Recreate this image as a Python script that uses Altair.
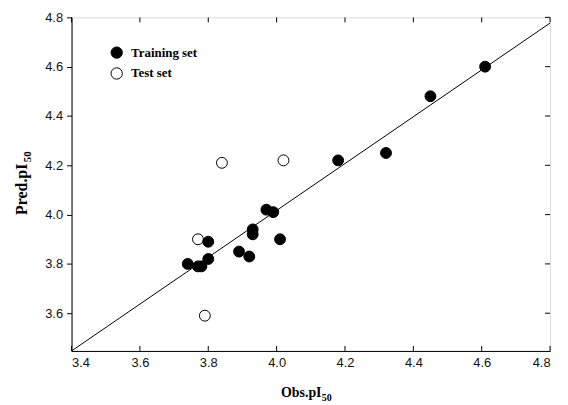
import altair as alt
import pandas as pd

# ---- data ----
train_x = [3.74, 3.77, 3.78, 3.80, 3.80, 3.89, 3.92, 3.93, 3.93, 3.97, 3.99, 4.01, 4.18, 4.32, 4.45, 4.61]
train_y = [3.80, 3.79, 3.79, 3.89, 3.82, 3.85, 3.83, 3.94, 3.92, 4.02, 4.01, 3.90, 4.22, 4.25, 4.48, 4.60]
test_x = [3.77, 3.79, 3.84, 4.02]
test_y = [3.90, 3.59, 4.21, 4.22]
fit_x = [3.40, 4.80]
fit_y = [3.447, 4.777]
x_ticks = [3.4, 3.6, 3.8, 4.0, 4.2, 4.4, 4.6, 4.8]
y_ticks = [3.6, 3.8, 4.0, 4.2, 4.4, 4.6, 4.8]
set_names = ["Training set", "Test set"]
x_title = ["Obs.pI", "50"]
y_title = ["Pred.pI", "50"]

W, H = 482, 336

pts = pd.DataFrame({
    "obs": test_x + train_x,
    "pred": test_y + train_y,
    "set": [set_names[1]] * len(test_x) + [set_names[0]] * len(train_x),
    "ord": list(range(len(test_x) + len(train_x))),
})
fit = pd.DataFrame({"obs": fit_x, "pred": fit_y})
xt = pd.DataFrame({"v": x_ticks})
yt = pd.DataFrame({"v": y_ticks})

xs = alt.Scale(domain=[3.4, 4.8], nice=False, zero=False)
ys = alt.Scale(domain=[3.447, 4.8], nice=False, zero=False)

lab = dict(labelFont="Liberation Sans", labelFontSize=13, labelColor="#111",
           grid=False, domainColor="black", domainWidth=1, title=None)
xaxis = alt.Axis(values=x_ticks, format=".1f", ticks=False, labelPadding=6, **lab)
yaxis = alt.Axis(values=y_ticks, format=".1f", ticks=True, tickSize=5, tickColor="black",
                 labelPadding=4, **lab)

X = lambda f: alt.X(f, type="quantitative", scale=xs, axis=xaxis)
Y = lambda f: alt.Y(f, type="quantitative", scale=ys, axis=yaxis)

line = alt.Chart(fit).mark_line(color="black", strokeWidth=1).encode(x=X("obs"), y=Y("pred"))

points = alt.Chart(pts).mark_point(shape="circle", size=120, stroke="black", strokeWidth=1,
                                   opacity=1, fillOpacity=1).encode(
    x=X("obs"), y=Y("pred"),
    fill=alt.Fill("set:N", scale=alt.Scale(domain=set_names, range=["black", "white"]),
                  legend=alt.Legend(orient="none", legendX=39, legendY=29, title=None,
                                    labelFont="Liberation Serif", labelFontWeight="bold",
                                    labelFontSize=13, labelColor="black",
                                    symbolType="circle", symbolSize=130,
                                    symbolStrokeColor="black", symbolStrokeWidth=1,
                                    labelOffset=8, rowPadding=4, padding=0)),
    order=alt.Order("ord:Q"),
)

tick_bottom = alt.Chart(xt).mark_rule(color="black").encode(
    x=X("v"), y=alt.value(H), y2=alt.value(H - 5))
tick_top = alt.Chart(xt).mark_rule(color="black").encode(
    x=X("v"), y=alt.value(0), y2=alt.value(5))
tick_right = alt.Chart(yt).mark_rule(color="black").encode(
    y=Y("v"), x=alt.value(W), x2=alt.value(W - 5))

xt_main = alt.Chart(pd.DataFrame({"t": [x_title[0]]})).mark_text(
    font="Liberation Serif", fontWeight="bold", fontSize=14, align="left",
    baseline="alphabetic", color="black").encode(text="t:N", x=alt.value(211), y=alt.value(382))
xt_sub = alt.Chart(pd.DataFrame({"t": [x_title[1]]})).mark_text(
    font="Liberation Serif", fontWeight="bold", fontSize=10, align="left",
    baseline="alphabetic", color="black").encode(text="t:N", x=alt.value(252), y=alt.value(386))
yt_main = alt.Chart(pd.DataFrame({"t": [y_title[0]]})).mark_text(
    font="Liberation Serif", fontWeight="bold", fontSize=16, align="left", angle=270,
    baseline="alphabetic", color="black").encode(text="t:N", x=alt.value(-45), y=alt.value(199))
yt_sub = alt.Chart(pd.DataFrame({"t": [y_title[1]]})).mark_text(
    font="Liberation Serif", fontWeight="bold", fontSize=11, align="left", angle=270,
    baseline="alphabetic", color="black").encode(text="t:N", x=alt.value(-41), y=alt.value(146))

chart = alt.layer(line, tick_bottom, tick_top, tick_right, points,
                  xt_main, xt_sub, yt_main, yt_sub).properties(
    width=W, height=H,
    autosize=alt.AutoSizeParams(type="none"),
    padding={"left": 64, "top": 8, "right": 10, "bottom": 52},
).configure_view(stroke="black", strokeWidth=1).configure(background="white")

chart.save("out.html", embed_options={"renderer": "svg", "actions": False})
